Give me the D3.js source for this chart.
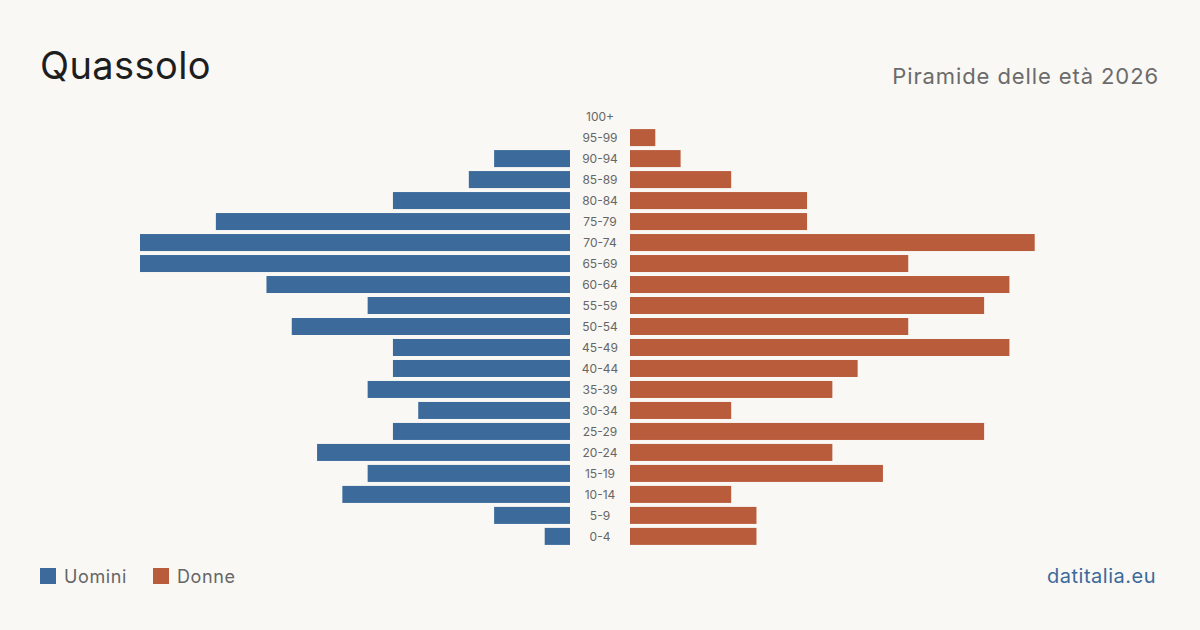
<!DOCTYPE html>
<html>
<head>
<meta charset="utf-8">
<script src="https://cdn.jsdelivr.net/npm/d3@7"></script>
<style>
  body { margin: 0; background: #f9f8f4; }
  svg { display: block; font-family: Inter, "Noto Sans", sans-serif; }
</style>
</head>
<body>
<svg width="1200" height="630"></svg>
<script>
'use strict';

// classi d'eta, dall'alto verso il basso
var classi = ["100+", "95-99", "90-94", "85-89", "80-84", "75-79", "70-74", "65-69",
  "60-64", "55-59", "50-54", "45-49", "40-44", "35-39", "30-34", "25-29",
  "20-24", "15-19", "10-14", "5-9", "0-4"];
var uomini = [0, 0, 3, 4, 7, 14, 17, 17, 12, 8, 11, 7, 7, 8, 6, 7, 10, 8, 9, 3, 1];
var donne = [0, 1, 2, 4, 7, 7, 16, 11, 15, 14, 11, 15, 9, 8, 4, 14, 8, 10, 4, 5, 5];

var svg = d3.select("svg");
var blu = "#3b6a9b", rosso = "#b95c3c";

svg.append("rect").attr("width", 1200).attr("height", 630).attr("fill", "#f9f8f4");

var y = d3.scaleBand().domain(classi).range([106, 547]).paddingInner(0.19).paddingOuter(0.1);
var max = d3.max(uomini.concat(donne));
var xL = d3.scaleLinear().domain([0, max]).range([570, 140]);
var xR = d3.scaleLinear().domain([0, max]).range([630, 1060]);

var g = svg.append("g");

g.selectAll(".m").data(classi).enter().append("rect")
  .attr("x", function (d, i) { return xL(uomini[i]); })
  .attr("y", function (d) { return y(d); })
  .attr("width", function (d, i) { return xL(0) - xL(uomini[i]); })
  .attr("height", y.bandwidth())
  .attr("fill", blu);

g.selectAll(".f").data(classi).enter().append("rect")
  .attr("x", xR(0))
  .attr("y", function (d) { return y(d); })
  .attr("width", function (d, i) { return xR(donne[i]) - xR(0); })
  .attr("height", y.bandwidth())
  .attr("fill", rosso);

g.selectAll(".lab").data(classi).enter().append("text")
  .attr("x", 600)
  .attr("y", function (d) { return y(d) + y.bandwidth() / 2; })
  .attr("dy", "0.35em")
  .attr("text-anchor", "middle")
  .attr("font-size", 12)
  .attr("fill", "#666")
  .text(function (d) { return d; });

// titoli
svg.append("text").attr("x", 40).attr("y", 79).attr("font-size", 38)
  .attr("letter-spacing", 0.4).attr("fill", "#1e1e1e").text("Quassolo");
svg.append("text").attr("x", 1159).attr("y", 84).attr("text-anchor", "end")
  .attr("font-size", 22).attr("letter-spacing", 0.9).attr("fill", "#6b6b6b").text("Piramide delle età 2026");

// legenda
var leg = [{ n: "Uomini", c: blu, x: 40 }, { n: "Donne", c: rosso, x: 153 }];
leg.forEach(function (l) {
  svg.append("rect").attr("x", l.x).attr("y", 568).attr("width", 16).attr("height", 16).attr("fill", l.c);
  svg.append("text").attr("x", l.x + 24).attr("y", 583).attr("font-size", 18)
    .attr("letter-spacing", 0.6).attr("fill", "#666").text(l.n);
});

svg.append("text").attr("x", 1156).attr("y", 583).attr("text-anchor", "end")
  .attr("font-size", 20).attr("letter-spacing", 0.5).attr("fill", blu).text("datitalia.eu");
</script>
</body>
</html>
